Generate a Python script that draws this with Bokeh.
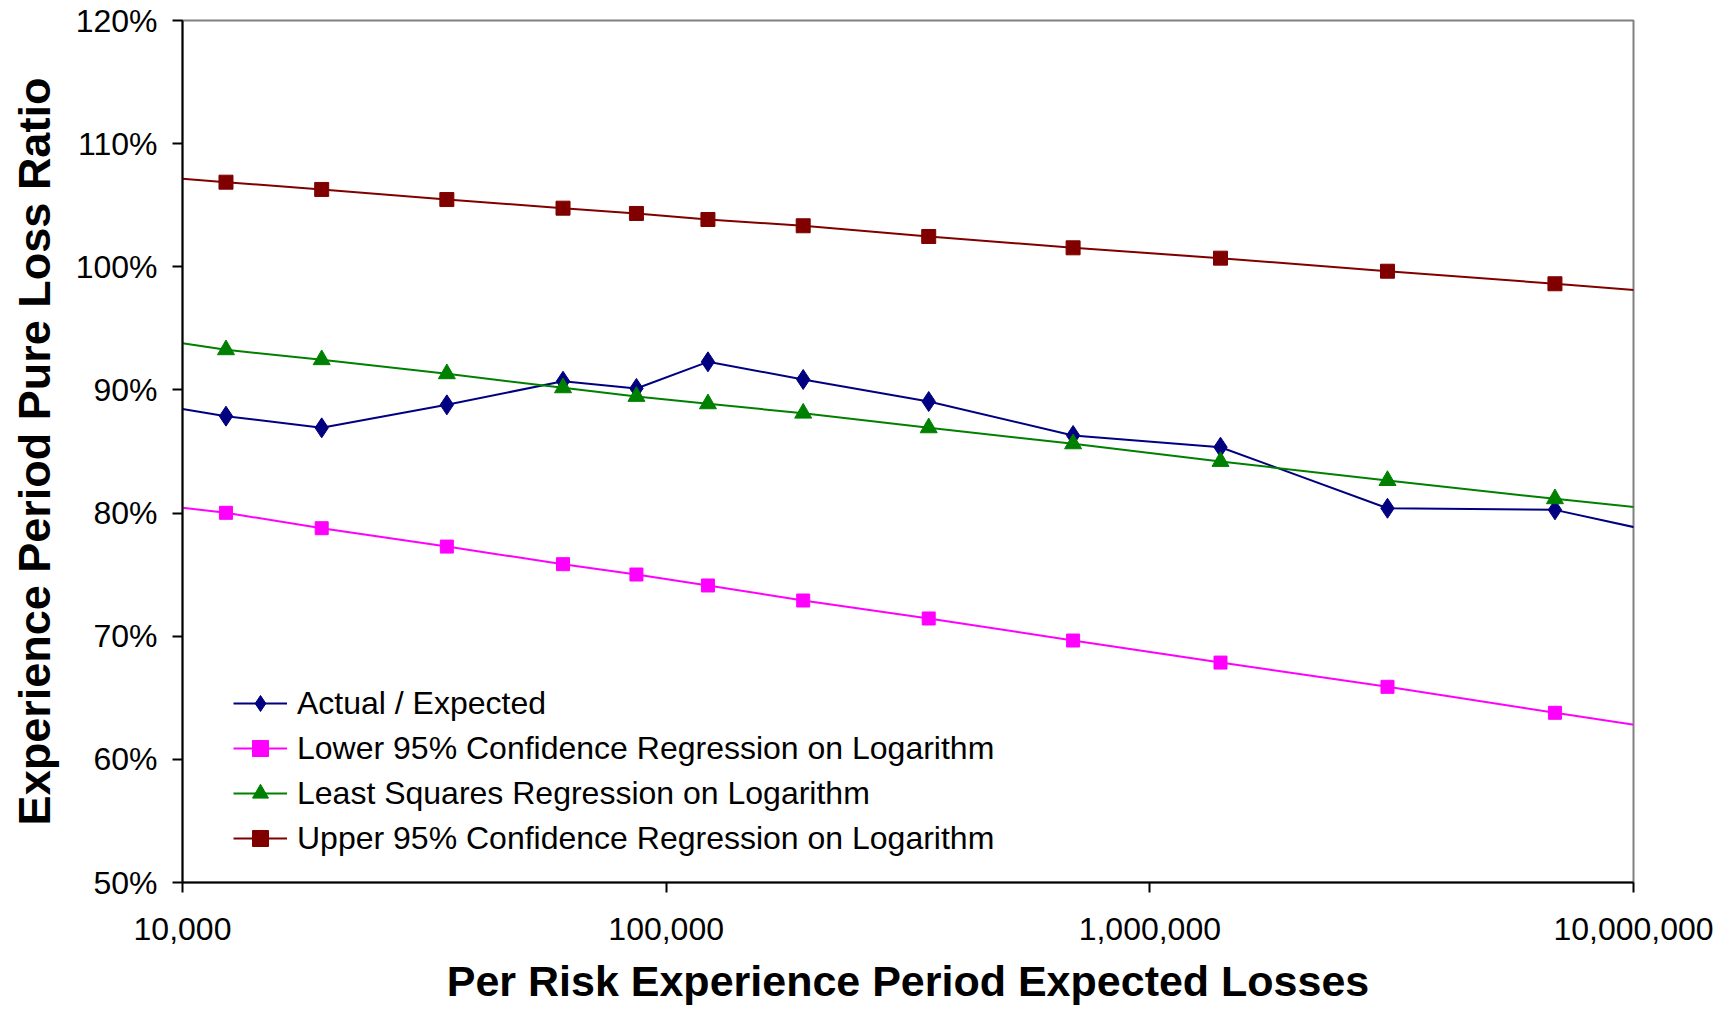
from bokeh.plotting import figure
from bokeh.models import (Range1d, FixedTicker, PrintfTickFormatter, NumeralTickFormatter,
                          Legend, LegendItem, ColumnDataSource)
from bokeh.embed import file_html
from bokeh.resources import INLINE

# ---- data ----
expected_losses = [12300, 19400, 35200, 61200, 86800, 122000, 192000, 349000,
                   694000, 1400000, 3100000, 6880000]
actual_expected = [87.87, 86.92, 88.79, 90.71, 90.12, 92.28, 90.85, 89.06,
                   86.30, 85.35, 80.39, 80.26]
lower_95 = [80.02, 78.77, 77.28, 75.85, 75.01, 74.12, 72.90, 71.44,
            69.65, 67.86, 65.89, 63.78]
least_squares = [93.26, 92.45, 91.31, 90.17, 89.47, 88.87, 88.11, 86.92,
                 85.62, 84.19, 82.64, 81.16]
upper_95 = [106.87, 106.28, 105.46, 104.76, 104.33, 103.84, 103.33, 102.46,
            101.54, 100.70, 99.64, 98.62]

# line continuation to the plot edges (values read at the edges)
edge_x = [10000, 10400000]
actual_edges = [88.46, 78.72]
lower_edges = [80.43, 62.72]
ls_edges = [93.79, 80.43]
upper_edges = [107.14, 98.07]

x_ticks = [10000, 100000, 1000000, 10000000]
y_ticks = [50, 60, 70, 80, 90, 100, 110, 120]

labels = ["Actual / Expected",
          "Lower 95% Confidence Regression on Logarithm",
          "Least Squares Regression on Logarithm",
          "Upper 95% Confidence Regression on Logarithm"]
colors = ["#000080", "#FF00FF", "#008000", "#800000"]
x_title = "Per Risk Experience Period Expected Losses"
y_title = "Experience Period Pure Loss Ratio"

FONT = "Liberation Sans"

p = figure(width=1717, height=1007, x_axis_type="log",
           x_range=Range1d(10000, 10000000), y_range=Range1d(50, 120),
           output_backend="svg", toolbar_location=None,
           min_border_left=182, min_border_top=20, min_border_right=84,
           min_border_bottom=125)

p.xgrid.grid_line_color = None
p.ygrid.grid_line_color = None
p.outline_line_color = "#808080"
p.outline_line_width = 2
p.background_fill_color = "white"

series = [
    (actual_expected, actual_edges, "diamond", 20),
    (lower_95, lower_edges, "square", 13),
    (least_squares, ls_edges, "triangle", 17),
    (upper_95, upper_edges, "square", 14),
]

items = []
for (vals, edges, marker, size), color, label in zip(series, colors, labels):
    lx = [edge_x[0]] + expected_losses + [edge_x[1]]
    ly = [edges[0]] + vals + [edges[1]]
    lr = p.line(lx, ly, line_color=color, line_width=2)
    src = ColumnDataSource(dict(x=expected_losses, y=vals))
    sr = p.scatter("x", "y", source=src, marker=marker, size=size,
                   fill_color=color, line_color=color, line_width=1)
    rends = [lr, sr]
    if label.startswith("Upper"):
        xr = p.scatter("x", "y", source=src, marker="x", size=18,
                       line_color=color, line_width=1.5)
        rends.append(xr)
    items.append(LegendItem(label=label, renderers=rends))

legend = Legend(items=items, location=(51, 24))
legend.background_fill_alpha = 0
legend.border_line_color = None
legend.padding = 0
legend.margin = 0
legend.spacing = 5
legend.glyph_width = 54
legend.glyph_height = 40
legend.label_height = 40
legend.label_standoff = 10
legend.label_text_font = FONT
legend.label_text_font_size = "32px"
legend.label_text_color = "black"
p.add_layout(legend)

# axes
for ax in (p.xaxis[0], p.yaxis[0]):
    ax.axis_line_color = "black"
    ax.axis_line_width = 2
    ax.major_tick_line_color = "black"
    ax.major_tick_line_width = 2
    ax.major_tick_out = 10
    ax.major_tick_in = 0
    ax.minor_tick_line_color = None
    ax.major_label_text_font = FONT
    ax.major_label_text_font_size = "32px"
    ax.major_label_text_color = "black"
    ax.axis_label_text_font = FONT
    ax.axis_label_text_font_style = "bold"
    ax.axis_label_text_color = "black"

p.xaxis.ticker = FixedTicker(ticks=x_ticks)
p.xaxis.formatter = NumeralTickFormatter(format="0,0")
p.xaxis.major_label_standoff = 25
p.xaxis.axis_label = x_title
p.xaxis.axis_label_text_font_size = "43px"
p.xaxis.axis_label_text_line_height = 0.8
p.xaxis.axis_label_standoff = 14

p.yaxis.ticker = FixedTicker(ticks=y_ticks)
p.yaxis.formatter = PrintfTickFormatter(format="%d%%")
p.yaxis.major_label_standoff = 15
p.yaxis.axis_label = y_title
p.yaxis.axis_label_text_font_size = "45px"
p.yaxis.axis_label_standoff = 13

open("out.html", "w").write(file_html(p, INLINE))
